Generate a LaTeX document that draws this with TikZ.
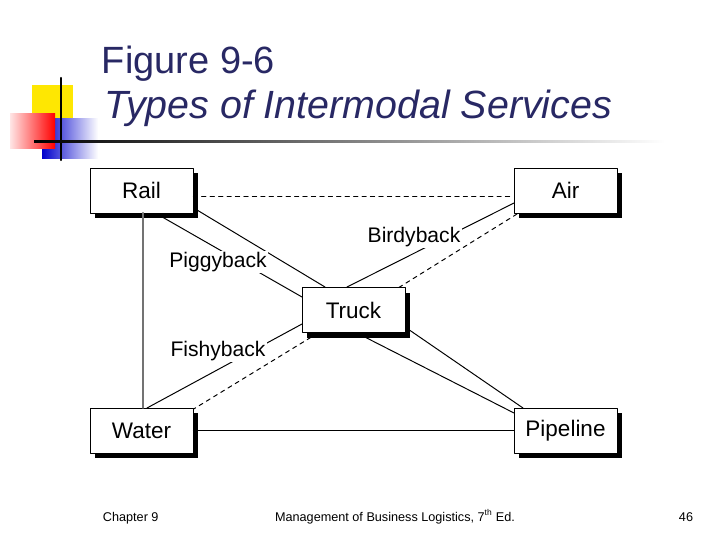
\documentclass[tikz,border=0pt]{standalone}
\usepackage{fontspec}
\setmainfont{Liberation Sans}
\usetikzlibrary{positioning}
\definecolor{navy}{RGB}{40,40,100}

\tikzset{
  mode/.style={draw,fill=white,minimum width=103*0.025cm,minimum height=45*0.025cm,
    font=\fontsize{16}{18}\selectfont,inner sep=0pt},
  shade/.style={fill=black},
  link/.style={line width=0.7pt},
  tag/.style={fill=white,inner sep=1pt,font=\fontsize{15}{17}\selectfont}
}

\begin{document}
\begin{tikzpicture}[line cap=round,line join=round,x=0.025cm,y=-0.025cm]
    \useasboundingbox (0,0) rectangle (720,540);

    % Logo
    \fill[yellow!90!orange] (32,85) rectangle (73,120);
    \shade[left color=blue!80!black,right color=white] (42,118) rectangle (98,158);
    \shade[left color=red!10,right color=red] (10,113) rectangle (55,148);
    \draw[line width=1.5pt] (61,78) -- (61,160);
    \shade[left color=black,right color=white] (34,140) rectangle (665,142.5);

    % Title
    \node[anchor=base west,text=navy,font=\fontsize{27}{30}\selectfont] (title) at (97,73) {Figure 9-6};
    \node[anchor=base west,text=navy,font=\fontsize{28}{30}\selectfont\itshape] (subtitle) at (100,118) {Types of Intermodal Services};

    % Connector ends
    \coordinate (r1) at (192,207); \coordinate (t1) at (325,287);
    \coordinate (r2) at (157,214); \coordinate (t2) at (302,297);
    \coordinate (a1) at (514,203); \coordinate (t3) at (347,287);
    \coordinate (a2) at (517,214); \coordinate (t4) at (390,293);
    \coordinate (t5) at (302,324); \coordinate (w1) at (147,408);
    \coordinate (t6) at (318,333); \coordinate (w2) at (192,410);
    \coordinate (t7) at (353,331); \coordinate (p1) at (514,413);
    \coordinate (t8) at (405,327); \coordinate (p2) at (523,408);

    % Edges
    \foreach \source/\target in {r1/t1, r2/t2, a1/t3, t5/w1, t7/p1, t8/p2} {
        \draw[link] (\source) -- (\target);
    }
    \foreach \source/\target in {a2/t4, t6/w2} {
        \draw[link,dashed] (\source) -- (\target);
    }

    % Shadows
    \foreach \x/\y in {90/168, 514/168, 302/288, 90/408, 514/408} {
        \fill[shade] (\x+5,\y+5) rectangle ++(103,45);
    }

    % Nodes
    \node[mode] (rail) at (141.5,190.5) {Rail};
    \node[mode] (air) at (565.5,190.5) {Air};
    \node[mode] (truck) at (353.5,310) {Truck};
    \node[mode] (water) at (141.5,430.5) {Water};
    \node[mode] (pipe) at (565.5,430.5) {Pipeline};

    % Direct edges
    \draw[link,dashed] (rail.east |- 0,196) -- (air.west |- 0,196);
    \draw[black!55,line width=1.6pt] (143,213) coordinate (r0) -- (r0 |- water.north);
    \draw[link] (water.east) -- (pipe.west);

    % Labels
    \node[tag] (piggy) at (218,262) {Piggyback};
    \node[tag] (birdy) at (414,237) {Birdyback};
    \node[tag] (fishy) at (218,351) {Fishyback};

    % Footer
    \node[anchor=base west,font=\fontsize{9}{11}\selectfont] (chap) at (98,521) {Chapter 9};
    \node[anchor=base,font=\fontsize{9}{11}\selectfont] (book) at (395,521) {Management of Business Logistics, 7\textsuperscript{th} Ed.};
    \node[anchor=base east,font=\fontsize{9}{11}\selectfont] (page) at (698,521) {46};
\end{tikzpicture}
\end{document}
